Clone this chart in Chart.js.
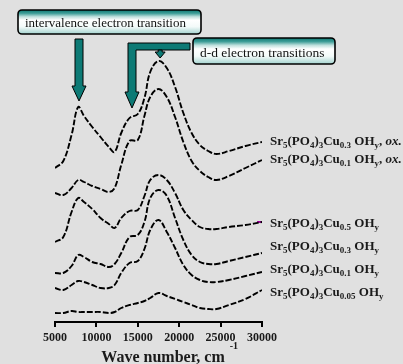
<!DOCTYPE html>
<html>
<head>
    <title>Diffuse reflectance spectra</title>
    <script src="https://cdn.jsdelivr.net/npm/chart.js"></script>
    <style>
        html, body {
            margin: 0;
            padding: 0;
            background: #e0e0e0;
        }
        canvas {
            display: block;
        }
    </style>
</head>
<body>
    <canvas id="spectraChart" width="403" height="364"></canvas>

    <script>
// wave numbers, cm-1
const waveNumbers = [5000, 6000, 7000, 7800, 8500, 9500, 10500, 11500, 12200, 13000, 14000, 15000, 15800,
    16500, 17500, 18500, 19500, 20500, 21500, 22500, 23500, 24500, 26000, 28000, 30000];

// stacked spectra, arbitrary units (offset per sample)
const cu03ox = [1.54, 1.61, 1.87, 2.15, 2.06, 1.95, 1.85, 1.75, 1.70, 1.89, 2.04, 2.08, 2.24,
    2.50, 2.61, 2.54, 2.35, 2.09, 1.89, 1.77, 1.71, 1.68, 1.71, 1.76, 1.80];
const cu01ox = [1.29, 1.27, 1.34, 1.42, 1.40, 1.36, 1.33, 1.30, 1.34, 1.57, 1.81, 1.82, 2.06,
    2.25, 2.33, 2.25, 2.05, 1.80, 1.61, 1.51, 1.45, 1.42, 1.46, 1.54, 1.62];
const cu05 = [0.80, 0.85, 1.10, 1.24, 1.20, 1.13, 1.04, 0.98, 0.94, 1.04, 1.11, 1.12, 1.26,
    1.42, 1.47, 1.42, 1.29, 1.12, 1.02, 0.95, 0.93, 0.93, 0.95, 0.97, 1.00];
const cu03 = [0.49, 0.49, 0.56, 0.67, 0.65, 0.60, 0.58, 0.55, 0.58, 0.69, 0.85, 0.87, 1.00,
    1.24, 1.32, 1.26, 1.04, 0.82, 0.67, 0.60, 0.58, 0.58, 0.61, 0.65, 0.69];
const cu01 = [0.34, 0.32, 0.37, 0.41, 0.40, 0.37, 0.34, 0.34, 0.37, 0.49, 0.59, 0.61, 0.73,
    0.92, 1.02, 0.90, 0.74, 0.57, 0.47, 0.42, 0.40, 0.40, 0.42, 0.46, 0.50];
const cu005 = [0.09, 0.09, 0.11, 0.10, 0.10, 0.10, 0.10, 0.09, 0.10, 0.14, 0.17, 0.19, 0.21,
    0.24, 0.29, 0.26, 0.23, 0.20, 0.17, 0.14, 0.13, 0.13, 0.17, 0.23, 0.32];

// stray magenta mark at the end of the Cu0.5 trace
const markX = [29400, 30000];
const markY = [1.00, 1.00];

const seriesLabels = [
    'Sr_5(PO_4)_3Cu_{0.3} OH_y, /ox./',
    'Sr_5(PO_4)_3Cu_{0.1} OH_y, /ox./',
    'Sr_5(PO_4)_3Cu_{0.5} OH_y',
    'Sr_5(PO_4)_3Cu_{0.3} OH_y',
    'Sr_5(PO_4)_3Cu_{0.1} OH_y',
    'Sr_5(PO_4)_3Cu_{0.05} OH_y'
];
const seriesData = [cu03ox, cu01ox, cu05, cu03, cu01, cu005];

const xTicks = [5000, 10000, 15000, 20000, 25000, 30000];

const serif = '"Liberation Serif", "Times New Roman", serif';
const teal = '#0d7a75';

function toPoints(xs, ys) {
    return xs.map((x, i) => ({ x: x, y: ys[i] }));
}

// formula text: _x or _{..} subscript, /../ italic
function drawFormula(ctx, str, x, y) {
    const re = /_\{([^}]*)\}|_(.)|\/([^\/]*)\/|([^_\/]+)/g;
    let m;
    while ((m = re.exec(str)) !== null) {
        let text, font, dy = 0;
        if (m[1] !== undefined || m[2] !== undefined) {
            text = m[1] !== undefined ? m[1] : m[2];
            font = 'bold 9px ' + serif;
            dy = 3;
        } else if (m[3] !== undefined) {
            text = m[3];
            font = 'italic bold 13px ' + serif;
        } else {
            text = m[4];
            font = 'bold 13px ' + serif;
        }
        ctx.font = font;
        ctx.fillText(text, x, y + dy);
        x += ctx.measureText(text).width;
    }
    return x;
}

function boxFill(ctx, top, bottom) {
    const g = ctx.createLinearGradient(0, top, 0, bottom);
    g.addColorStop(0, '#0c7872');
    g.addColorStop(0.14, '#3f9e98');
    g.addColorStop(0.28, '#bfe0dd');
    g.addColorStop(0.42, '#ffffff');
    g.addColorStop(0.7, '#f3faf9');
    g.addColorStop(1, '#a3d3cf');
    return g;
}

function drawBox(ctx, x, y, w, h, text, size) {
    ctx.save();
    ctx.beginPath();
    ctx.roundRect(x, y, w, h, 4);
    ctx.fillStyle = boxFill(ctx, y, y + h);
    ctx.fill();
    ctx.lineWidth = 1.6;
    ctx.strokeStyle = '#000';
    ctx.stroke();
    ctx.fillStyle = '#111';
    ctx.font = size + 'px ' + serif;
    ctx.textBaseline = 'alphabetic';
    ctx.fillText(text, x + 7, y + h - 7);
    ctx.restore();
}

function drawPoly(ctx, pts) {
    ctx.save();
    ctx.beginPath();
    pts.forEach((p, i) => i ? ctx.lineTo(p[0], p[1]) : ctx.moveTo(p[0], p[1]));
    ctx.closePath();
    ctx.fillStyle = teal;
    ctx.fill();
    ctx.lineWidth = 1;
    ctx.strokeStyle = '#000';
    ctx.stroke();
    ctx.restore();
}

const annotations = {
    id: 'annotations',
    afterDraw(chart) {
        const ctx = chart.ctx;
        const xs = chart.scales.x;
        const area = chart.chartArea;

        // arrow to the intervalence band
        const a1 = xs.getPixelForValue(7900);
        drawPoly(ctx, [[a1 - 4, 39], [a1 + 4, 39], [a1 + 4, 86], [a1 + 7, 86], [a1, 101], [a1 - 7, 86], [a1 - 4, 86]]);

        // bent arrow to the d-d shoulder + small arrow to the d-d maximum
        const a2 = xs.getPixelForValue(14300);
        drawPoly(ctx, [[a2 - 4, 43], [190, 43], [190, 50], [a2 + 4, 50], [a2 + 4, 92], [a2 + 7, 92],
            [a2, 108], [a2 - 7, 92], [a2 - 4, 92]]);
        const a3 = xs.getPixelForValue(17700);
        drawPoly(ctx, [[a3 - 2, 50], [a3 + 2, 50], [a3 + 2, 52], [a3 + 5, 52], [a3, 58], [a3 - 5, 52], [a3 - 2, 52]]);

        drawBox(ctx, 18, 10, 183, 24, 'intervalence electron transition', 13);
        drawBox(ctx, 193, 38, 142, 26, 'd-d electron transitions', 13.5);

        // sample labels
        ctx.save();
        ctx.fillStyle = '#1a1a1a';
        ctx.textBaseline = 'alphabetic';
        const labelBase = [145, 163, 227, 250, 273, 296];
        seriesLabels.forEach((lbl, i) => drawFormula(ctx, lbl, area.right + 8, labelBase[i]));

        // axis title
        ctx.font = 'bold 16px ' + serif;
        ctx.textAlign = 'center';
        ctx.fillText('Wave number, cm', 163, 362);
        const end = 163 + ctx.measureText('Wave number, cm').width / 2;
        ctx.textAlign = 'left';
        ctx.font = 'bold 10px ' + serif;
        ctx.fillText('-1', end + 5, 349);
        ctx.restore();
    }
};

const datasets = seriesData.map((ys, i) => ({
    label: seriesLabels[i],
    data: toPoints(waveNumbers, ys),
    borderColor: '#000',
    borderWidth: 1.9,
    borderDash: [6, 2],
    pointRadius: 0,
    tension: 0.4,
    fill: false
}));
datasets.push({
    label: 'mark',
    data: toPoints(markX, markY),
    borderColor: '#a0009a',
    borderWidth: 2,
    pointRadius: 0
});

new Chart(document.getElementById('spectraChart'), {
    type: 'line',
    data: { datasets: datasets },
    options: {
        responsive: false,
        animation: false,
        layout: {
            padding: { left: 55, right: 141, top: 40, bottom: 0 }
        },
        plugins: {
            legend: { display: false },
            tooltip: { enabled: false }
        },
        scales: {
            x: {
                type: 'linear',
                min: 5000,
                max: 30000,
                afterFit: s => { s.height = 42; },
                afterBuildTicks: s => { s.ticks = xTicks.map(v => ({ value: v })); },
                grid: {
                    display: true,
                    drawOnChartArea: false,
                    drawTicks: true,
                    tickLength: 5,
                    color: '#000',
                    lineWidth: 2
                },
                border: { display: true, color: '#000', width: 2 },
                ticks: {
                    autoSkip: false,
                    maxRotation: 0,
                    padding: 4,
                    color: '#1a1a1a',
                    font: { family: serif, weight: 'bold', size: 12 },
                    callback: v => String(v)
                }
            },
            y: {
                display: false,
                min: 0,
                max: 2.82
            }
        }
    },
    plugins: [annotations]
});
</script>
</body>
</html>
